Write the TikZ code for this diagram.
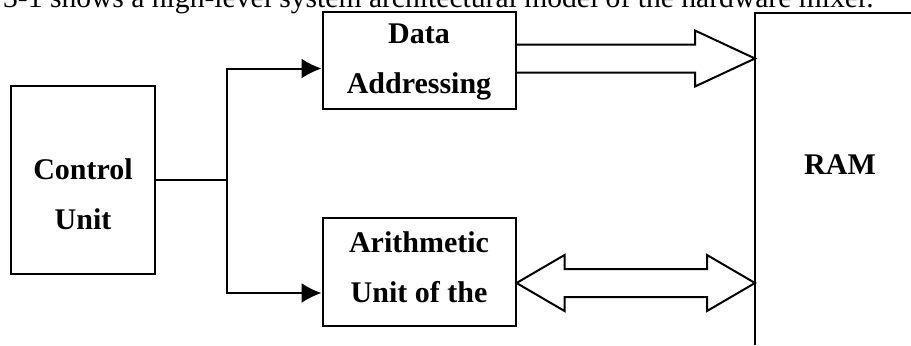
\documentclass[tikz,border=0pt]{standalone}
\usepackage{fontspec}
\setmainfont{Liberation Serif}
\usetikzlibrary{arrows.meta,calc}

\begin{document}
\begin{tikzpicture}[x=0.5pt,y=-0.5pt,
  block/.style={draw, line width=1pt, inner sep=0pt},
  blocktext/.style={font=\fontsize{15}{25}\selectfont\bfseries, align=center, inner sep=0pt},
  link/.style={line width=1pt, -{Latex[length=10pt,width=10pt]}},
  fat/.style={draw, line width=1pt, line join=miter}]
\useasboundingbox (0,0) rectangle (911,345);
\clip (0,0) rectangle (911,345);

% Caption line (cut at the top)
\node[anchor=base east, font=\fontsize{14.8}{18}\selectfont, inner sep=0pt] (cap) at (874,7.5) {3-1 shows a high-level system architectural model of the hardware mixer.};

% Blocks
\node[block, minimum width=72pt, minimum height=94pt] (ctrl) at (83,180) {};
\node[blocktext] (ctrltext) at ($(ctrl)+(0,14)$) {Control\\Unit};
\node[block, minimum width=96.5pt, minimum height=48.5pt] (da) at (419,60.5) {};
\node[blocktext] (datext) at ($(da)+(0,1)$) {Data\\Addressing};
\node[block, minimum width=96.5pt, minimum height=54pt] (au) at (419,272) {};
\node[blocktext] (autext) at ($(au)+(0,-5)$) {Arithmetic\\Unit of the};

% RAM
\coordinate (ramtop) at (755,12.5);
\coordinate (rambot) at (755,345);
\draw[line width=1pt] (rambot) -- (ramtop) -- (911,12.5);
\node[font=\fontsize{15}{18}\selectfont\bfseries] (ram) at (840,165) {RAM};

% Control lines
\coordinate (fork) at (227,180);
\draw[line width=1pt] (ctrl.east |- fork) -- (fork);
\draw[link] (fork) |- ($(da.west)+(0,8)$);
\draw[link] (fork) |- ($(au.west)+(0,21)$);

% Address bus (one way)
\coordinate (t1) at ($(da.east -| ramtop)+(0,-2)$);
\draw[fat] ($(da.east |- t1)+(0,-14)$) -- ($(t1)+(-60,-14)$) -- ($(t1)+(-60,-28)$) -- (t1)
  -- ($(t1)+(-60,28)$) -- ($(t1)+(-60,14)$) -- ($(da.east |- t1)+(0,14)$);

% Data bus (both ways)
\coordinate (t2) at ($(au.east -| ramtop)+(0,11)$);
\coordinate (t3) at ($(au.east)+(0,11)$);
\draw[fat] (t3) -- ($(t3)+(48,-28)$) -- ($(t3)+(48,-14)$) -- ($(t2)+(-48,-14)$) -- ($(t2)+(-48,-28)$) -- (t2)
  -- ($(t2)+(-48,28)$) -- ($(t2)+(-48,14)$) -- ($(t3)+(48,14)$) -- ($(t3)+(48,28)$) -- cycle;
\end{tikzpicture}
\end{document}
